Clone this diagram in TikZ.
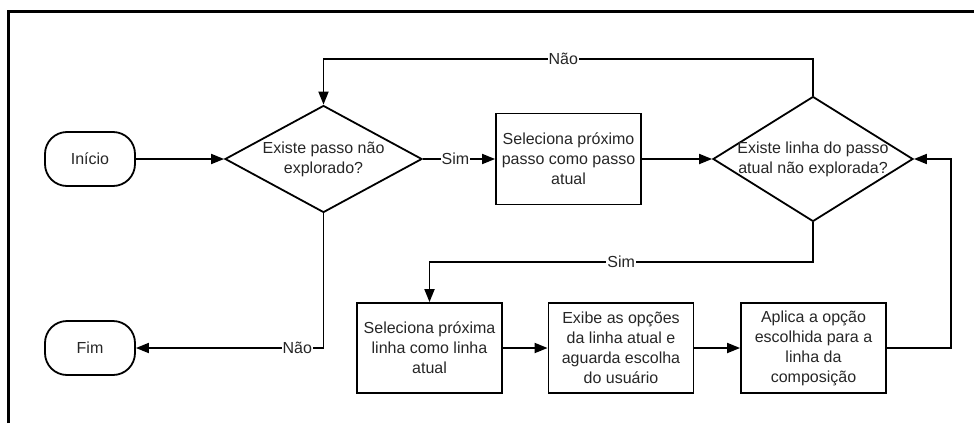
\documentclass[tikz,border=0pt]{standalone}
\usepackage{fontspec}
\setmainfont{Liberation Sans}
\usetikzlibrary{arrows.meta,shapes.geometric}
\begin{document}
\begin{tikzpicture}[x=1pt,y=-1pt,
  every node/.style={font=\fontsize{16}{20}\selectfont, text=black!85},
  box/.style={draw, line width=1.8pt, minimum width=145pt, minimum height=91pt, align=center, inner sep=2pt},
  term/.style={draw, line width=1.8pt, rounded corners=22pt, minimum width=90pt, minimum height=54pt},
  dia/.style={draw, diamond, line width=1.8pt, inner sep=0pt},
  conn/.style={line width=1.8pt},
  arr/.style={conn, -{Triangle[length=13pt,width=10pt]}},
  lbl/.style={fill=white, inner sep=1pt}
]
\useasboundingbox (0,0) rectangle (974,423);
\draw[line width=3pt] (8.5,423) -- (8.5,11.5) -- (974,11.5);

\node[term] (start) at (90,159) {Início};
\node[term] (end) at (90,348) {Fim};
\node[dia, minimum width=197pt, minimum height=107pt] (d1) at (323.5,159) {};
\node[align=center] (d1t) at (d1.center) {Existe passo não\\explorado?};
\node[box] (b1) at (568.5,159) {Seleciona próximo\\passo como passo\\atual};
\node[dia, minimum width=200pt, minimum height=125pt] (d2) at (813,159) {};
\node[align=center] (d2t) at (d2.center) {Existe linha do passo\\atual não explorada?};
\node[box, minimum height=90pt] (b3) at (429.5,348) {Seleciona próxima\\linha como linha\\atual};
\node[box, minimum height=90pt] (b4) at (621,348) {Exibe as opções\\da linha atual e\\aguarda escolha\\do usuário};
\node[box, minimum height=90pt] (b5) at (813.5,348) {Aplica a opção\\escolhida para a\\linha da\\composição};

\coordinate (t1) at (813,59);
\coordinate (t2) at (813,262);
\coordinate (t3) at (951,348);

\draw[arr] (start.east) -- (d1.west);
\draw[arr] (d1.east) -- node[lbl, pos=0.45]{Sim} (b1.west);
\draw[arr] (b1.east) -- (d2.west);
\draw[arr] (d2.north) -- (t1) -| node[lbl, pos=0.255]{Não} (d1.north);
\draw[arr] (d2.south) -- (t2) -| node[lbl, pos=0.25]{Sim} (b3.north);
\draw[arr] (d1.south) |- node[lbl, pos=0.57]{Não} (end.east);
\draw[arr] (b3.east) -- (b4.west);
\draw[arr] (b4.east) -- (b5.west);
\draw[arr] (b5.east) -- (t3) |- (d2.east);
\end{tikzpicture}
\end{document}
